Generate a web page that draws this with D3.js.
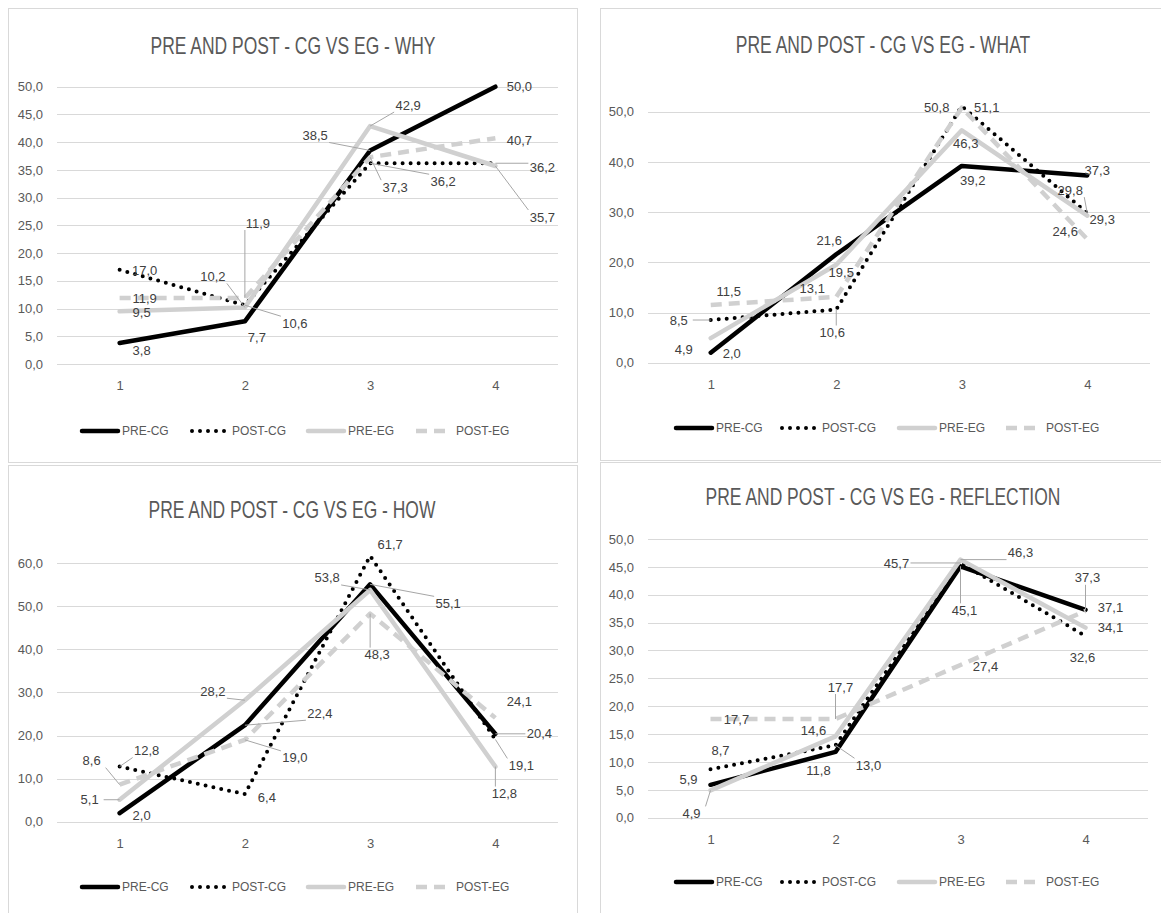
<!DOCTYPE html>
<html>
<head>
<meta charset="utf-8">
<script src="https://cdn.jsdelivr.net/npm/d3@7"></script>
<style>
	body { margin: 0; background: #fff; }
	text { font-family: "Liberation Sans", Arial, sans-serif; }
</style>
</head>
<body>
<svg id="chart" width="1161" height="913"></svg>
<script>
// categories and series names shared by the four charts
var categories = ["1", "2", "3", "4"];
var seriesNames = ["PRE-CG", "POST-CG", "PRE-EG", "POST-EG"];

// WHY
var whyPreCG = [3.8, 7.7, 38.5, 50.0];
var whyPostCG = [17.0, 10.6, 36.2, 36.2];
var whyPreEG = [9.5, 10.2, 42.9, 35.7];
var whyPostEG = [11.9, 11.9, 37.3, 40.7];

// WHAT
var whatPreCG = [2.0, 21.6, 39.2, 37.3];
var whatPostCG = [8.5, 10.6, 51.1, 29.8];
var whatPreEG = [4.9, 19.5, 46.3, 29.3];
var whatPostEG = [11.5, 13.1, 50.8, 24.6];

// HOW
var howPreCG = [2.0, 22.4, 55.1, 20.4];
var howPostCG = [12.8, 6.4, 61.7, 19.1];
var howPreEG = [5.1, 28.2, 53.8, 12.8];
var howPostEG = [8.6, 19.0, 48.3, 24.1];

// REFLECTION
var reflPreCG = [5.9, 11.8, 45.1, 37.3];
var reflPostCG = [8.7, 13.0, 45.7, 32.6];
var reflPreEG = [4.9, 14.6, 46.3, 34.1];
var reflPostEG = [17.7, 17.7, 27.4, 37.1];

// tick values of the value axes
var ticksBy5 = [0, 5, 10, 15, 20, 25, 30, 35, 40, 45, 50];
var ticksBy10To50 = [0, 10, 20, 30, 40, 50];
var ticksBy10To60 = [0, 10, 20, 30, 40, 50, 60];

// where each data label sits relative to its point (pixels), one row per series
var whyLabelOffsets = [
	[[22, 8], [12, 16], [-55, -15], [24, 0]],
	[[25, 1], [50, 18], [73, 18], [47, 4]],
	[[22, 1], [-32, -31], [38, -21], [47, 51]],
	[[25, 0], [13, -75], [25, 30], [24, 2]]
];
var whatLabelOffsets = [
	[[21, 1], [-7, -14], [11, 15], [10, -5]],
	[[-32, 0], [-4, 23], [25, 1], [-17, -23]],
	[[-27, 11], [5, 8], [4, 13], [15, 4]],
	[[18, -14], [-24, -8], [-25, 0], [-22, -8]]
];
var howLabelOffsets = [
	[[22, 2], [75, -12], [78, 19], [44, 0]],
	[[27, -16], [22, 3], [20, -11], [26, 26]],
	[[-30, 0], [-32, -9], [-43, -12], [9, 27]],
	[[-28, -24], [50, 18], [7, 41], [24, -16]]
];
var reflLabelOffsets = [
	[[-22, -5], [-17, 19], [4, 44], [2, -32]],
	[[10, -19], [33, 20], [-64, 0], [-3, 21]],
	[[-19, 23], [-22, -6], [60, -7], [25, 0]],
	[[26, 0], [5, -32], [25, 1], [25, -3]]
];

// line styles, in the order of seriesNames
var seriesStyles = [
	{stroke: "#000000", width: 4.5, dash: null, cap: "round"},
	{stroke: "#000000", width: 4, dash: "0 8", cap: "round"},
	{stroke: "#d0d0d0", width: 4.5, dash: null, cap: "round"},
	{stroke: "#d0d0d0", width: 4.5, dash: "11 7", cap: "butt"}
];

var panels = [
	{title: "PRE AND POST - CG VS EG - WHY", series: [whyPreCG, whyPostCG, whyPreEG, whyPostEG],
		offsets: whyLabelOffsets, ticks: ticksBy5, maxY: 50,
		box: [8, 8, 577, 462], left: 57, right: 558, top: 86.7, bottom: 364,
		titleX: 293, titleY: 54, legendY: 431, legendX: [80, 190, 306, 414]},
	{title: "PRE AND POST - CG VS EG - WHAT", series: [whatPreCG, whatPostCG, whatPreEG, whatPostEG],
		offsets: whatLabelOffsets, ticks: ticksBy10To50, maxY: 55,
		box: [600, 8, 1175, 460], left: 648, right: 1150, top: 86.6, bottom: 362.7,
		titleX: 883, titleY: 53, legendY: 428, legendX: [674, 780, 897, 1004]},
	{title: "PRE AND POST - CG VS EG - HOW", series: [howPreCG, howPostCG, howPreEG, howPostEG],
		offsets: howLabelOffsets, ticks: ticksBy10To60, maxY: 65,
		box: [8, 465, 577, 925], left: 57, right: 558, top: 541.7, bottom: 821.7,
		titleX: 292, titleY: 518, legendY: 887, legendX: [80, 190, 306, 414]},
	{title: "PRE AND POST - CG VS EG - REFLECTION", series: [reflPreCG, reflPostCG, reflPreEG, reflPostEG],
		offsets: reflLabelOffsets, ticks: ticksBy5, maxY: 50,
		box: [600, 462, 1175, 925], left: 648, right: 1148, top: 539, bottom: 817.7,
		titleX: 883, titleY: 505, legendY: 882, legendX: [674, 780, 897, 1004]}
];

var svg = d3.select("#chart");

panels.forEach(drawPanel);

function drawPanel(p) {
	var g = svg.append("g");

	// panel frame
	g.append("rect")
		.attr("x", p.box[0] + 0.5)
		.attr("y", p.box[1] + 0.5)
		.attr("width", p.box[2] - p.box[0])
		.attr("height", p.box[3] - p.box[1])
		.attr("fill", "#fff")
		.attr("stroke", "#d9d9d9");

	// title, squeezed like the narrow font of the original
	g.append("text")
		.attr("transform", "translate(" + p.titleX + "," + p.titleY + ") scale(0.76,1)")
		.attr("text-anchor", "middle")
		.attr("font-size", 23)
		.attr("fill", "#595959")
		.text(p.title);

	var x = d3.scalePoint()
		.domain(categories)
		.range([p.left, p.right])
		.padding(0.5);

	var y = d3.scaleLinear()
		.domain([0, p.maxY])
		.range([p.bottom, p.top]);

	// gridlines
	g.selectAll(".grid")
		.data(p.ticks)
		.enter()
		.append("line")
		.attr("x1", p.left)
		.attr("x2", p.right)
		.attr("y1", function(d) { return Math.round(y(d)) + 0.5; })
		.attr("y2", function(d) { return Math.round(y(d)) + 0.5; })
		.attr("stroke", "#d9d9d9")
		.attr("stroke-width", 1);

	// value axis labels
	var fmt = function(d) { return d3.format(".1f")(d).replace(".", ","); };
	var yAxis = g.append("g")
		.attr("transform", "translate(" + (p.left - 14) + ",0)")
		.call(d3.axisLeft(y).tickValues(p.ticks).tickFormat(fmt).tickSize(0).tickPadding(0));
	yAxis.select(".domain").remove();
	yAxis.selectAll("text")
		.attr("font-size", 13)
		.attr("font-family", "Liberation Sans, Arial, sans-serif")
		.attr("fill", "#595959");

	// category axis labels
	var xAxis = g.append("g")
		.attr("transform", "translate(0," + (p.bottom + 17) + ")")
		.call(d3.axisBottom(x).tickSize(0).tickPadding(0));
	xAxis.select(".domain").remove();
	xAxis.selectAll("text")
		.attr("font-size", 13)
		.attr("font-family", "Liberation Sans, Arial, sans-serif")
		.attr("fill", "#595959");

	var line = d3.line()
		.x(function(d, i) { return x(categories[i]); })
		.y(function(d) { return y(d); });

	// the four series, later ones drawn on top
	p.series.forEach(function(values, s) {
		var st = seriesStyles[s];
		g.append("path")
			.attr("d", line(values))
			.attr("fill", "none")
			.attr("stroke", st.stroke)
			.attr("stroke-width", st.width)
			.attr("stroke-dasharray", st.dash)
			.attr("stroke-linecap", st.cap)
			.attr("stroke-linejoin", "round");
	});

	// data labels with leader lines when they sit far from the point
	p.series.forEach(function(values, s) {
		values.forEach(function(v, i) {
			var px = x(categories[i]);
			var py = y(v);
			var lx = px + p.offsets[s][i][0];
			var ly = py + p.offsets[s][i][1];
			var hw = 14, hh = 7;
			var nx = Math.max(lx - hw, Math.min(px, lx + hw));
			var ny = Math.max(ly - hh, Math.min(py, ly + hh));
			var dist = Math.hypot(px - nx, py - ny);
			if (dist > 14) {
				g.append("line")
					.attr("x1", nx)
					.attr("y1", ny)
					.attr("x2", px)
					.attr("y2", py)
					.attr("stroke", "#a6a6a6")
					.attr("stroke-width", 1);
			}
			g.append("text")
				.attr("x", lx)
				.attr("y", ly)
				.attr("dy", "0.35em")
				.attr("text-anchor", "middle")
				.attr("font-size", 13)
				.attr("fill", "#404040")
				.text(fmt(v));
		});
	});

	// legend
	seriesNames.forEach(function(name, s) {
		var st = seriesStyles[s];
		var lx = p.legendX[s];
		g.append("line")
			.attr("x1", lx + 2)
			.attr("x2", lx + 38)
			.attr("y1", p.legendY)
			.attr("y2", p.legendY)
			.attr("stroke", st.stroke)
			.attr("stroke-width", st.width)
			.attr("stroke-dasharray", st.dash)
			.attr("stroke-linecap", st.cap);
		g.append("text")
			.attr("x", lx + 42)
			.attr("y", p.legendY)
			.attr("dy", "0.35em")
			.attr("font-size", 12)
			.attr("fill", "#595959")
			.text(name);
	});
}
</script>
</body>
</html>
